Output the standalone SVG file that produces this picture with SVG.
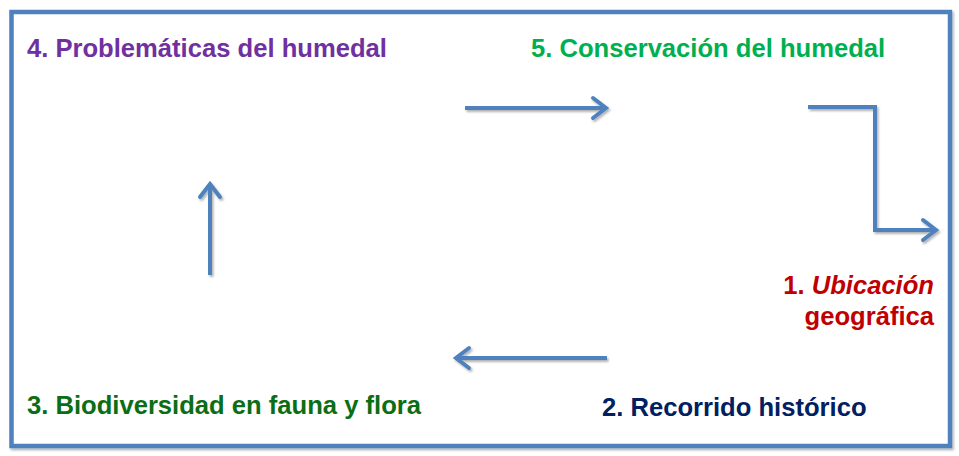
<svg xmlns="http://www.w3.org/2000/svg" width="959" height="456" viewBox="0 0 959 456">
<style>
.t{font-family:"Liberation Sans",Arial,sans-serif;font-weight:bold;font-size:25.6px}
.c{fill:none;stroke:#4F81BD;stroke-width:4;filter:url(#sh)}
</style>
<defs>
<filter id="sh" filterUnits="userSpaceOnUse" x="0" y="0" width="959" height="456">
<feDropShadow dx="1.5" dy="2" stdDeviation="1.2" flood-color="#000" flood-opacity="0.3"/>
</filter>
<marker id="ah" markerUnits="userSpaceOnUse" viewBox="-18 -12 22 24" markerWidth="22" markerHeight="24" refX="0" refY="0" orient="auto" overflow="visible">
<path d="M-13 -10 L0 0 L-13 10" fill="none" stroke="#4F81BD" stroke-width="4" stroke-linecap="round" stroke-linejoin="miter"/>
</marker>
</defs>
<rect id="frame" x="11.5" y="12" width="938.5" height="434" fill="#fff" stroke="#4F81BD" stroke-width="4.5" filter="url(#sh)"/>
<g id="connectors">
<path class="c" d="M465 108 H606" marker-end="url(#ah)"/>
<path class="c" d="M808 107 H875 V230 H936" marker-end="url(#ah)"/>
<path class="c" d="M607 358 H456" marker-end="url(#ah)"/>
<path class="c" d="M210 275 V184" marker-end="url(#ah)"/>
</g>
<g id="n4"><text class="t" x="27" y="57" fill="#7030A0">4. Problemáticas del humedal</text></g>
<g id="n5"><text class="t" x="531" y="57" fill="#00B050">5. Conservación del humedal</text></g>
<g id="n1"><text class="t" x="934" y="294" text-anchor="end" fill="#C00000">1. <tspan font-style="italic">Ubicación</tspan></text>
<text class="t" x="934" y="325" text-anchor="end" fill="#C00000">geográfica</text></g>
<g id="n2"><text class="t" x="602" y="416" fill="#002060">2. Recorrido histórico</text></g>
<g id="n3"><text class="t" x="27" y="414" fill="#0A6E14">3. Biodiversidad en fauna y flora</text></g>
</svg>
